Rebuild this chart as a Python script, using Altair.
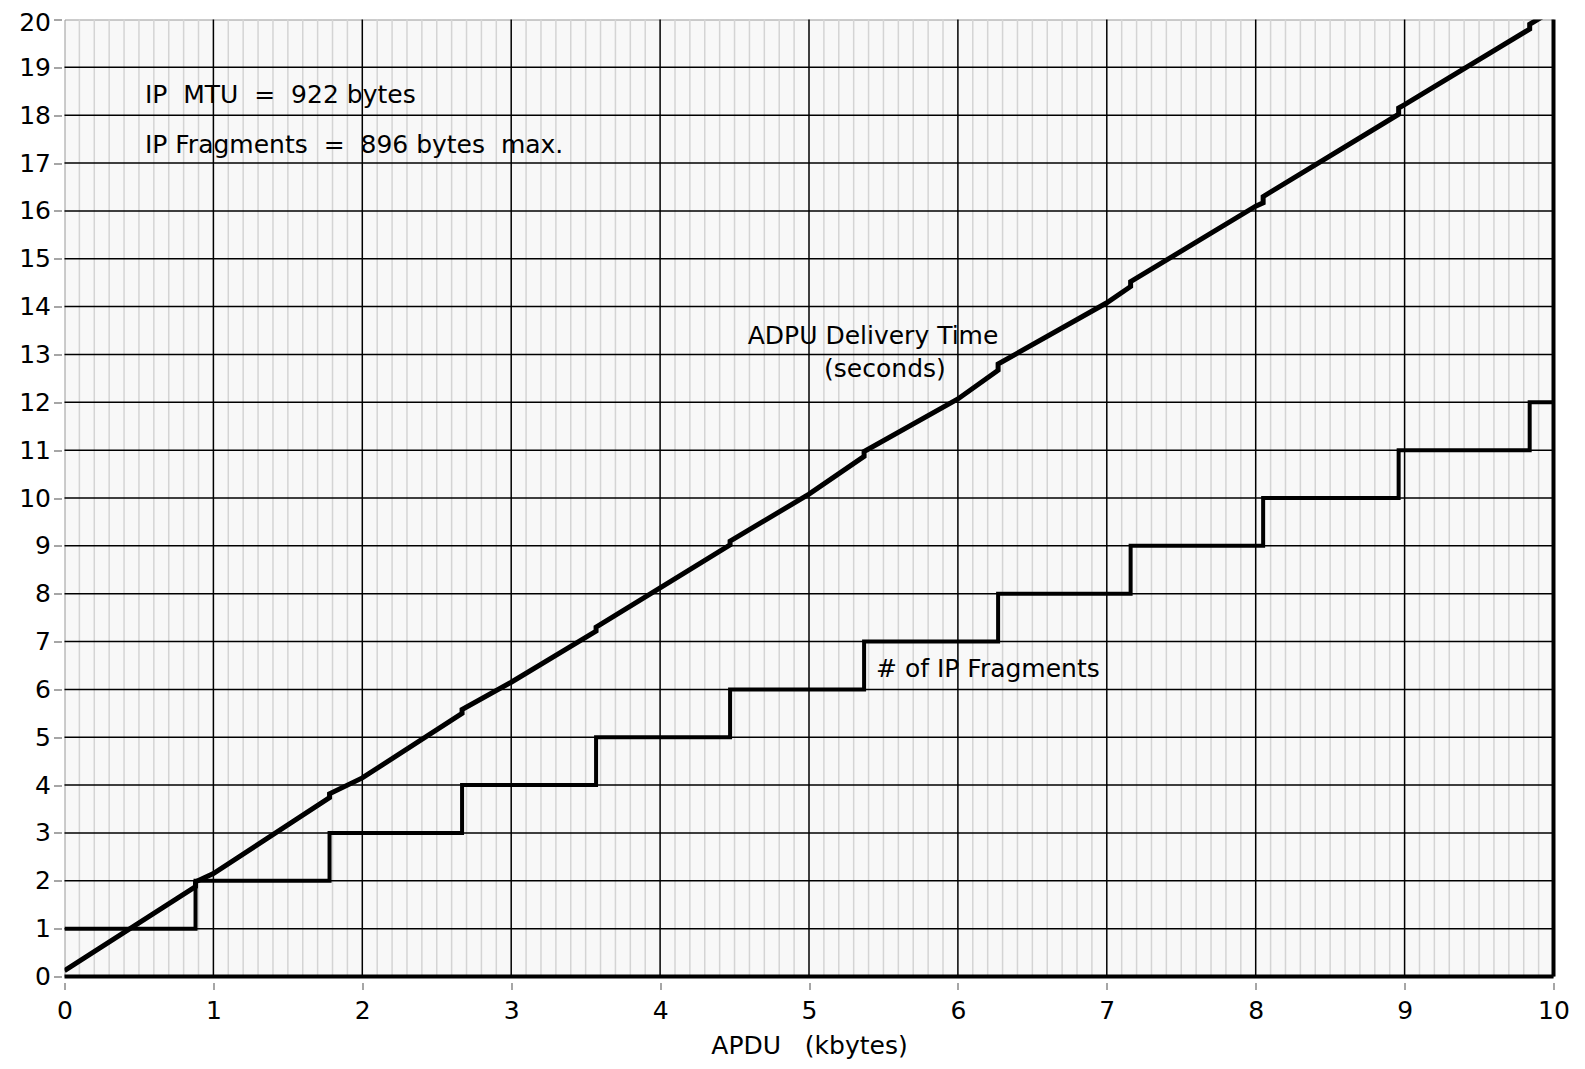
import altair as alt
import pandas as pd

# Delivery time (seconds) vs APDU size (kbytes)
delivery_x = [0, 0.88, 0.88, 1, 1.78, 1.78, 2, 2.67, 2.67, 3, 3.57, 3.57, 4, 4.47, 4.47,
              5, 5.37, 5.37, 6, 6.27, 6.27, 7, 7.16, 7.16, 8, 8.05, 8.05, 8.96, 8.96, 9,
              9.84, 9.84, 10]
delivery_y = [0.12, 1.88, 1.98, 2.15, 3.74, 3.82, 4.15, 5.5, 5.58, 6.15, 7.22, 7.3, 8.12, 9.02, 9.1,
              10.08, 10.87, 10.97, 12.07, 12.67, 12.8, 14.08, 14.42, 14.52, 16.1, 16.17, 16.3, 18.02, 18.15, 18.22,
              19.8, 19.9, 20.2]

# Number of IP fragments (step function)
frag_x = [0, 0.88, 1.78, 2.67, 3.57, 4.47, 5.37, 6.27, 7.16, 8.05, 8.96, 9.84, 10]
frag_y = [1, 2, 3, 4, 5, 6, 7, 8, 9, 10, 11, 12, 12]

x_ticks = list(range(0, 11))
y_ticks = list(range(0, 21))
minor_x = [round(i / 10, 1) for i in range(1, 100) if i % 10 != 0]

notes_text = ["IP\u00a0 MTU\u00a0 =\u00a0 922 bytes", "IP Fragments\u00a0 =\u00a0 896 bytes\u00a0 max."]
notes_x = [0.54, 0.54]
notes_y = [18.43, 17.38]

FONT = "DejaVu Sans"
FS = 25

xs = alt.Scale(domain=[0, 10], nice=False, zero=False)
ys = alt.Scale(domain=[0, 20], nice=False, zero=False)

delivery = pd.DataFrame({"x": delivery_x, "y": delivery_y, "o": list(range(len(delivery_x)))})
frags = pd.DataFrame({"x": frag_x, "y": frag_y})

minor = alt.Chart(pd.DataFrame({"x": minor_x})).mark_rule(color="#d4d4d4", strokeWidth=1.5).encode(
    x=alt.X("x:Q", scale=xs, axis=alt.Axis(values=x_ticks, format="d", grid=False, domain=False, tickSize=7,
                                           offset=6, tickColor="#888888", tickWidth=1.5, labelFlush=False,
                                           labelFont=FONT, labelFontSize=FS, labelColor="black",
                                           labelPadding=9, title="APDU\u00a0\u00a0 (kbytes)",
                                           titleFont=FONT, titleFontSize=FS, titleFontWeight="normal",
                                           titleColor="black", titlePadding=10))
)
major_v = alt.Chart(pd.DataFrame({"x": x_ticks[1:-1]})).mark_rule(color="black", strokeWidth=1.5).encode(
    x=alt.X("x:Q", scale=xs)
)
major_h = alt.Chart(pd.DataFrame({"y": y_ticks[1:-1]})).mark_rule(color="black", strokeWidth=1.5).encode(
    y=alt.Y("y:Q", scale=ys, axis=alt.Axis(values=y_ticks, format="d", grid=False, domain=False, tickSize=8,
                                           offset=3, tickColor="#888888", tickWidth=1.5, labelFlush=False,
                                           labelFont=FONT, labelFontSize=FS, labelColor="black",
                                           labelPadding=3, title=None,
                                           labelOffset=alt.condition("datum.value == 20", alt.value(3), alt.value(0))))
)
bottom = alt.Chart(pd.DataFrame({"y": [0]})).mark_rule(color="black", strokeWidth=4).encode(
    y=alt.Y("y:Q", scale=ys)
)
right = alt.Chart(pd.DataFrame({"x": [10]})).mark_rule(color="black", strokeWidth=4).encode(
    x=alt.X("x:Q", scale=xs)
)

frag_line = alt.Chart(frags).mark_line(color="black", strokeWidth=4, interpolate="step-after",
                                       clip=True).encode(
    x=alt.X("x:Q", scale=xs), y=alt.Y("y:Q", scale=ys)
)
del_line = alt.Chart(delivery).mark_line(color="black", strokeWidth=5, clip=True).encode(
    x=alt.X("x:Q", scale=xs), y=alt.Y("y:Q", scale=ys), order="o:Q"
)

notes = alt.Chart(pd.DataFrame({"t": notes_text, "x": notes_x, "y": notes_y})).mark_text(
    align="left", baseline="middle", font=FONT, fontSize=FS, color="black").encode(
    x=alt.X("x:Q", scale=xs), y=alt.Y("y:Q", scale=ys), text="t:N"
)
labels = alt.Chart(pd.DataFrame({
    "t": ["ADPU Delivery Time", "(seconds)"],
    "x": [5.43, 5.51], "y": [13.39, 12.69]})).mark_text(
    align="center", baseline="middle", font=FONT, fontSize=FS, color="black").encode(
    x=alt.X("x:Q", scale=xs), y=alt.Y("y:Q", scale=ys), text="t:N"
)
frag_label = alt.Chart(pd.DataFrame({"t": ["# of IP Fragments"], "x": [5.45], "y": [6.43]})).mark_text(
    align="left", baseline="middle", font=FONT, fontSize=FS, color="black").encode(
    x=alt.X("x:Q", scale=xs), y=alt.Y("y:Q", scale=ys), text="t:N"
)

chart = alt.layer(minor, major_v, major_h, frag_line, del_line, bottom, right, notes, labels, frag_label).properties(
    width=1489, height=957,
    autosize=alt.AutoSizeParams(type="none"),
    padding={"left": 56.5, "top": 11.5, "right": 20, "bottom": 85},
    background="white",
).configure_view(fill="#f8f8f8", stroke="#999999", strokeWidth=1)

chart.save("out.html", embed_options={"renderer": "svg", "actions": False})
